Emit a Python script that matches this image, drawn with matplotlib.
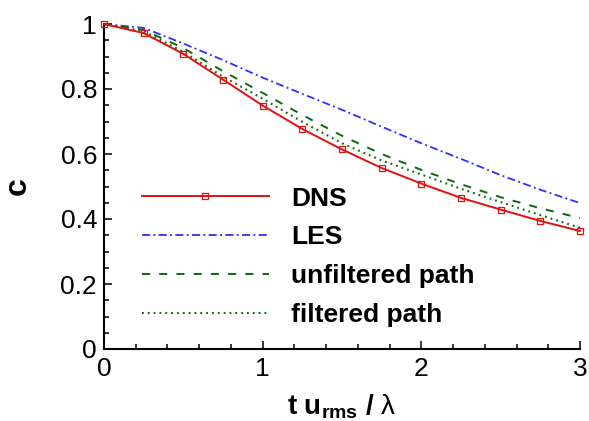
import matplotlib
matplotlib.use('Agg')
import matplotlib.pyplot as plt
from matplotlib.ticker import MultipleLocator

# ---- data: correlation c vs. normalised time ----
t = [0.0, 0.25, 0.5, 0.75, 1.0, 1.25, 1.5, 1.75, 2.0, 2.25, 2.5, 2.75, 3.0]
c_dns = [1.0, 0.972, 0.908, 0.829, 0.749, 0.677, 0.614, 0.557, 0.509, 0.465, 0.429, 0.394, 0.363]
c_les = [1.0, 0.988, 0.940, 0.889, 0.835, 0.785, 0.736, 0.684, 0.633, 0.585, 0.535, 0.490, 0.449]
c_unfilt = [1.0, 0.982, 0.926, 0.855, 0.788, 0.720, 0.656, 0.600, 0.551, 0.507, 0.467, 0.433, 0.403]
c_filt = [1.0, 0.978, 0.914, 0.838, 0.770, 0.699, 0.633, 0.580, 0.537, 0.493, 0.452, 0.412, 0.373]

labels = ['DNS', 'LES', 'unfiltered path', 'filtered path']
x_ticks = [0, 1, 2, 3]
x_ticklabels = ['0', '1', '2', '3']
y_ticks = [0, 0.2, 0.4, 0.6, 0.8, 1.0]
y_ticklabels = ['0', '0.2', '0.4', '0.6', '0.8', '1']

# ---- style ----
plt.rcParams.update({
    'font.family': ['Liberation Sans', 'DejaVu Sans'],
    'mathtext.fontset': 'custom',
    'mathtext.rm': 'Liberation Sans',
    'mathtext.bf': 'Liberation Sans:bold',
    'mathtext.it': 'Liberation Sans:italic',
    'lines.scale_dashes': False,
})

fig = plt.figure(figsize=(5.89, 4.21), dpi=100)
ax = fig.add_axes([104 / 589, 1 - 349 / 421, 476 / 589, 325 / 421])

ax.plot(t, c_dns, '-', color='#e41010', lw=1.4, marker='s', ms=5, mfc='none',
        mec='#e41010', mew=0.9, clip_on=False, label=labels[0], zorder=5)
ax.plot(t, c_les, color='#2f2fff', lw=1.3, linestyle=(0, (5.8, 2.4, 1.4, 2.4)),
        clip_on=False, label=labels[1])
ax.plot(t, c_unfilt, color='#0a6a0a', lw=1.4, linestyle=(0, (5.8, 6.6)),
        clip_on=False, label=labels[2])
ax.plot(t, c_filt, color='#0a6a0a', lw=1.5, linestyle=(0, (1.3, 2.9)),
        clip_on=False, label=labels[3])

ax.set_xlim(0, 3)
ax.set_ylim(0, 1)
ax.set_xticks(x_ticks)
ax.set_xticklabels(x_ticklabels)
ax.set_yticks(y_ticks)
ax.set_yticklabels(y_ticklabels)
ax.xaxis.set_minor_locator(MultipleLocator(0.2))
ax.yaxis.set_minor_locator(MultipleLocator(0.05))

for side in ['top', 'right']:
    ax.spines[side].set_visible(False)
for side in ['left', 'bottom']:
    ax.spines[side].set_linewidth(1.5)

ax.tick_params(which='both', direction='in', width=1.1, labelsize=19)
ax.tick_params(which='major', length=6)
ax.tick_params(which='minor', length=3.5)
ax.tick_params(axis='y', pad=5)
ax.tick_params(axis='x', pad=6)

ax.set_xlabel(r't u$_{\mathbf{rms}}$ / $\mathrm{\lambda}$', fontsize=20, fontweight='bold')
ax.set_ylabel('c', fontsize=23, fontweight='bold')
ax.yaxis.set_label_coords(-0.15, 0.5)
ax.xaxis.set_label_coords(0.5, -0.135)

leg = ax.legend(loc='upper left', bbox_to_anchor=(0.08, 0.50), frameon=False,
                borderpad=0, borderaxespad=0, handlelength=4.8, handletextpad=0.85,
                labelspacing=0.56, numpoints=1, prop={'size': 19, 'weight': 'bold'})

fig.savefig('out.png', dpi=100)
